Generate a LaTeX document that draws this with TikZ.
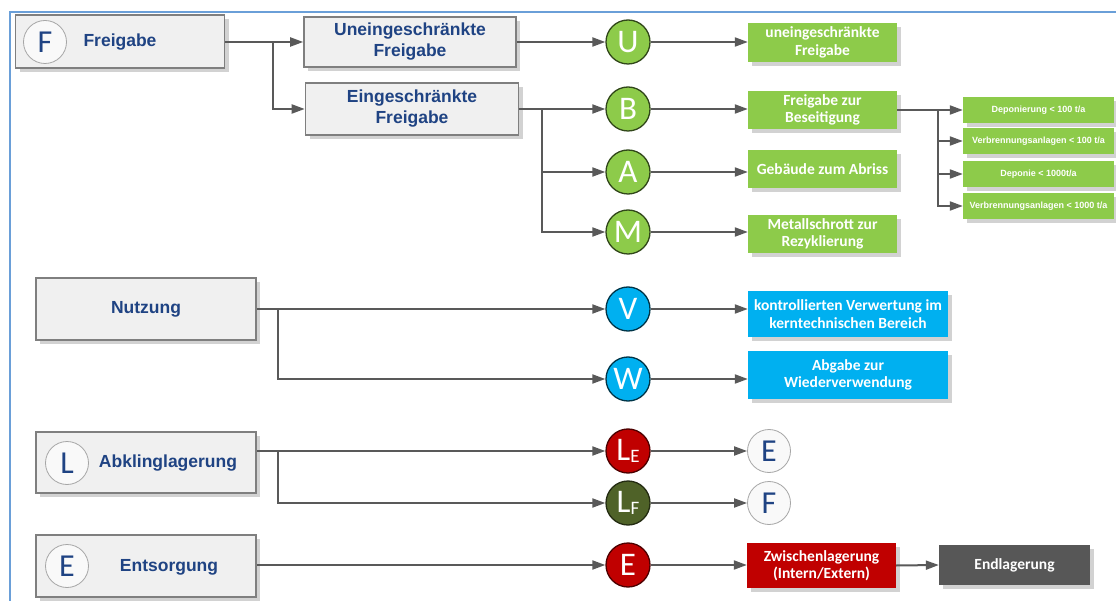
\documentclass[tikz,border=0pt]{standalone}
\usepackage{fontspec}
\setmainfont{Liberation Sans}
\newfontfamily\cali{Carlito}
\usetikzlibrary{arrows.meta,shadows}
\definecolor{lineg}{HTML}{595959}
\definecolor{boxfill}{HTML}{F0F0F0}
\definecolor{boxdraw}{HTML}{7F7F7F}
\definecolor{navy}{HTML}{1F4383}
\definecolor{lime}{HTML}{8DCB4A}
\definecolor{sky}{HTML}{00B0F0}
\definecolor{cred}{HTML}{C00000}
\definecolor{olive}{HTML}{4F6228}
\definecolor{dgray}{HTML}{575757}
\definecolor{framec}{HTML}{6A9FD8}
\definecolor{shadowc}{HTML}{D2D2D2}
\tikzset{
  shad/.style={drop shadow={shadow xshift=4pt, shadow yshift=-4pt, fill=shadowc, opacity=1}},
  gbox/.style={rectangle, draw=boxdraw, line width=1.6pt, fill=boxfill, text=navy,
    font=\bfseries\fontsize{17.5}{21}\selectfont, align=center, inner sep=0pt, shad},
  cbox/.style={rectangle, text=white, font=\cali\bfseries\fontsize{15.5}{17.5}\selectfont,
    align=center, inner sep=0pt, minimum width=149pt, shad},
  sbox/.style={rectangle, fill=lime, text=white, font=\bfseries\fontsize{9}{10}\selectfont,
    inner sep=0pt, minimum width=151pt, minimum height=26pt, shad},
  circ/.style={circle, minimum size=44pt, inner sep=0pt, line width=1.3pt, text=white,
    font=\cali\fontsize{33}{33}\selectfont},
  lcirc/.style={circle, minimum size=43pt, inner sep=0pt, draw=black!35, line width=0.8pt,
    fill=white!60!boxfill, text=navy, font=\cali\fontsize{32}{32}\selectfont},
  ttl/.style={text=navy, font=\bfseries\fontsize{17.5}{21}\selectfont, inner sep=0pt},
  arr/.style={draw=lineg, line width=2pt, -{Triangle[length=13pt,width=9pt]}},
  framel/.style={draw=framec, line width=2pt}
}
\newcommand{\sublab}[2]{#1\raisebox{-0.08em}{\fontsize{19}{19}\selectfont #2}}
\begin{document}
\begin{tikzpicture}[x=1pt,y=-1pt]
\useasboundingbox (0,0) rectangle (1116,601);
\fill[white] (0,0) rectangle (1116,601);
\draw[framel] (10,601) -- (10,12) -- (1116,12);

% left boxes
\node[gbox, minimum width=209pt, minimum height=53pt] (freig) at (120,41.5) {};
\node[lcirc] (fc) at (45,42) {F};
\node[ttl] (freigt) at (120,42) {Freigabe};
\node[gbox, minimum width=212pt, minimum height=50pt] (uneing) at (410,42) {Uneingeschränkte\\Freigabe};
\node[gbox, minimum width=213pt, minimum height=52pt] (eing) at (412,109) {Eingeschränkte\\Freigabe};
\node[gbox, minimum width=220pt, minimum height=62pt] (nutz) at (146,309) {Nutzung};
\node[gbox, minimum width=220pt, minimum height=61pt] (abk) at (146,462.5) {};
\node[lcirc] (lc) at (67,463) {L};
\node[ttl] (abkt) at (168,463) {Abklinglagerung};
\node[gbox, minimum width=220pt, minimum height=62pt] (ents) at (146,566) {};
\node[lcirc] (ec) at (67,566) {E};
\node[ttl] (entst) at (169,567) {Entsorgung};

% circles
\node[circ, fill=lime, draw=lime!35!black] (U) at (628,42) {U};
\node[circ, fill=lime, draw=lime!35!black] (B) at (628,109) {B};
\node[circ, fill=lime, draw=lime!35!black] (A) at (628,172) {A};
\node[circ, fill=lime, draw=lime!35!black] (M) at (628,232) {M};
\node[circ, fill=sky, draw=sky!30!black] (V) at (628,309) {V};
\node[circ, fill=sky, draw=sky!30!black] (W) at (628,379) {W};
\node[circ, fill=cred, draw=cred!40!black] (LE) at (628,451) {\sublab{L}{E}};
\node[circ, fill=olive, draw=olive!45!black] (LF) at (628,503) {\sublab{L}{F}};
\node[circ, fill=cred, draw=cred!40!black] (E) at (628,565) {E};
\node[lcirc] (Eg) at (769,451) {E};
\node[lcirc] (Fg) at (769,503) {F};

% result boxes
\node[cbox, fill=lime, minimum height=39pt] (ug) at (822.5,42.5) {uneingeschränkte\\Freigabe};
\node[cbox, fill=lime, minimum height=38pt] (fzb) at (822.5,110) {Freigabe zur\\Beseitigung};
\node[cbox, fill=lime, minimum height=38pt] (geb) at (822.5,169) {Gebäude zum Abriss};
\node[cbox, fill=lime, minimum height=38pt] (met) at (822.5,234) {Metallschrott zur\\Rezyklierung};
\node[cbox, fill=sky, minimum width=200pt, minimum height=46pt] (kv) at (848,314) {kontrollierten Verwertung im\\kerntechnischen Bereich};
\node[cbox, fill=sky, minimum width=200pt, minimum height=47pt] (agw) at (848,375) {Abgabe zur\\Wiederverwendung};
\node[cbox, fill=cred, minimum height=45pt] (zw) at (821.5,565.5) {Zwischenlagerung\\(Intern/Extern)};
\node[cbox, fill=dgray, minimum width=151pt, minimum height=40pt] (end) at (1014.5,565) {Endlagerung};

\node[sbox] (d1) at (1038.5,110) {Deponierung < 100 t/a};
\node[sbox] (d2) at (1038.5,141) {Verbrennungsanlagen < 100 t/a};
\node[sbox] (d3) at (1038.5,174) {Deponie < 1000t/a};
\node[sbox] (d4) at (1038.5,206) {Verbrennungsanlagen < 1000 t/a};

% junctions
\coordinate (jf) at (273,42);
\coordinate (je) at (542,109);
\coordinate (jd) at (938,110);
\coordinate (jn) at (278,309);
\coordinate (jl) at (278,451);

% connectors
\draw[arr] (freig.east |- jf) -- (uneing.west);
\draw[arr] (jf) |- (eing.west);
\draw[arr] (uneing.east) -- (U);
\draw[arr] (U) -- (U -| ug.west);
\draw[arr] (eing.east |- B) -- (B);
\draw[arr] (je) |- (A);
\draw[arr] (je) |- (M);
\draw[arr] (B) -- (B -| fzb.west);
\draw[arr] (A) -- (A -| geb.west);
\draw[arr] (M) -- (M -| met.west);
\draw[arr] (fzb.east) -- (d1.west);
\draw[arr] (jd) |- (d2.west);
\draw[arr] (jd) |- (d3.west);
\draw[arr] (jd) |- (d4.west);
\draw[arr] (nutz.east) -- (V);
\draw[arr] (jn) |- (W);
\draw[arr] (V) -- (V -| kv.west);
\draw[arr] (W) -- (W -| agw.west);
\draw[arr] (abk.east |- LE) -- (LE);
\draw[arr] (jl) |- (LF);
\draw[arr] (LE) -- (Eg);
\draw[arr] (LF) -- (Fg);
\draw[arr] (ents.east |- E) -- (E);
\draw[arr] (E) -- (E -| zw.west);
\draw[arr] (zw.east) -- (end.west);
\end{tikzpicture}
\end{document}
